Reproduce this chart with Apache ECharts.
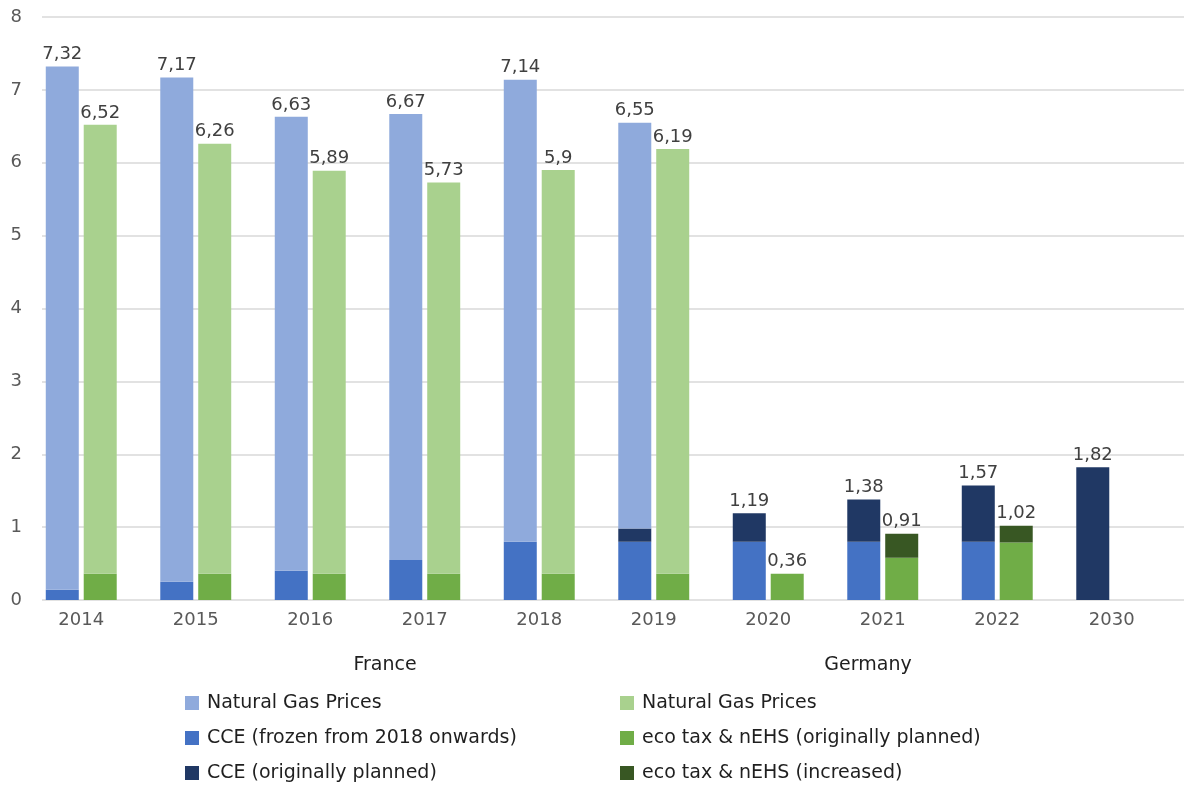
<!DOCTYPE html>
<html>
<head>
<meta charset="utf-8">
<title>Natural gas prices and carbon taxes: France vs Germany</title>
<script src="https://cdn.jsdelivr.net/npm/echarts@6/dist/echarts.min.js"></script>
<style>
  html, body { margin: 0; padding: 0; background: #fff; }
  #chart { width: 1184px; height: 789px; }
</style>
</head>
<body>
<div id="chart"></div>
<script>
// Years on the category axis
const years = ['2014', '2015', '2016', '2017', '2018', '2019', '2020', '2021', '2022', '2030'];

// Left stack (France): CCE frozen, CCE originally planned (extra), gas price
const cceFrozen = [0.14, 0.25, 0.40, 0.55, 0.80, 0.80, 0.80, 0.80, 0.80, null];
const cceOriginal = [null, null, null, null, null, 0.18, 0.39, 0.58, 0.77, 1.82];
const gasPriceFR = [7.18, 6.92, 6.23, 6.12, 6.34, 5.57, null, null, null, null];

// Right stack (Germany): eco tax & nEHS planned, increase, gas price
const ecoTaxPlanned = [0.36, 0.36, 0.36, 0.36, 0.36, 0.36, 0.36, 0.58, 0.79, null];
const ecoTaxIncrease = [null, null, null, null, null, null, null, 0.33, 0.23, null];
const gasPriceDE = [6.16, 5.90, 5.53, 5.37, 5.54, 5.83, null, null, null, null];

const yTicks = { min: 0, max: 8, interval: 1 };

const FONT = '"DejaVu Sans", "Liberation Sans", sans-serif';
const FS = 18;      // axis and value labels
const FS_KEY = 19;  // legend and country labels

// Sum of the segments in one stack, null when the stack is empty
function stackTotals(parts) {
  return years.map((_, i) => {
    let s = 0, any = false;
    parts.forEach(p => { if (p[i] != null) { s += p[i]; any = true; } });
    return any ? Math.round(s * 100) / 100 : null;
  });
}
const totalFR = stackTotals([cceFrozen, cceOriginal, gasPriceFR]);
const totalDE = stackTotals([ecoTaxPlanned, ecoTaxIncrease, gasPriceDE]);

function fmt(v) { return String(v).replace('.', ','); }

function seg(name, data, stack, color) {
  return {
    name, type: 'bar', stack, data,
    xAxisIndex: 0, yAxisIndex: 0,
    barWidth: 33, barGap: '15%',
    itemStyle: { color },
    emphasis: { disabled: true }
  };
}

// Zero-height bar on top of each stack that carries the total label
function totalLabel(id, stack, totals) {
  return {
    id, type: 'bar', stack,
    data: totals.map(t => (t == null ? '-' : 0)),
    xAxisIndex: 0, yAxisIndex: 0,
    barWidth: 33, barGap: '15%',
    itemStyle: { color: 'transparent' },
    silent: true,
    label: {
      show: true, position: 'top', distance: 3,
      color: '#404040', fontSize: FS, fontFamily: FONT,
      formatter: p => fmt(totals[p.dataIndex])
    }
  };
}

const chart = echarts.init(document.getElementById('chart'), null, { renderer: 'canvas' });

const legendText = { color: '#1f1f1f', fontSize: FS_KEY, fontFamily: FONT, lineHeight: 20, padding: [0, 0, 0, 3] };
const legendFormatter = name => name.replace(/ \((FR|DE)\)$/, '');
const legendBase = {
  orient: 'vertical', top: 693, itemGap: 15, padding: 0,
  itemWidth: 14, itemHeight: 14, icon: 'rect',
  formatter: legendFormatter, textStyle: legendText, selectedMode: false
};

chart.setOption({
  animation: false,
  backgroundColor: '#fff',
  grid: [
    { left: 24, right: 15, top: 17, bottom: 189 },
    { left: 42, right: 0, top: 17, bottom: 189 }
  ],
  xAxis: [
    {
      type: 'category', data: years, gridIndex: 0,
      axisLine: { show: false }, axisTick: { show: false },
      axisLabel: { color: '#595959', fontSize: FS, fontFamily: FONT, margin: 11 }
    },
    { type: 'value', gridIndex: 1, show: false, min: 0, max: 1 }
  ],
  yAxis: [
    { type: 'value', gridIndex: 0, show: false, min: yTicks.min, max: yTicks.max, interval: yTicks.interval },
    {
      type: 'value', gridIndex: 1, min: yTicks.min, max: yTicks.max, interval: yTicks.interval,
      axisLine: { show: false }, axisTick: { show: false },
      axisLabel: { color: '#595959', fontSize: FS, fontFamily: FONT, margin: 20 },
      splitLine: { lineStyle: { color: '#d9d9d9', width: 1.5 } }
    }
  ],
  legend: [
    Object.assign({}, legendBase, {
      left: 185,
      data: ['Natural Gas Prices (FR)', 'CCE (frozen from 2018 onwards)', 'CCE (originally planned)']
    }),
    Object.assign({}, legendBase, {
      left: 620,
      data: ['Natural Gas Prices (DE)', 'eco tax & nEHS (originally planned)', 'eco tax & nEHS (increased)']
    })
  ],
  graphic: [
    { type: 'text', x: 385, y: 665, style: { text: 'France', fill: '#1f1f1f', font: FS_KEY + 'px ' + FONT, textAlign: 'center', textVerticalAlign: 'middle' } },
    { type: 'text', x: 868, y: 665, style: { text: 'Germany', fill: '#1f1f1f', font: FS_KEY + 'px ' + FONT, textAlign: 'center', textVerticalAlign: 'middle' } }
  ],
  series: [
    seg('CCE (frozen from 2018 onwards)', cceFrozen, 'fr', '#4472C4'),
    seg('CCE (originally planned)', cceOriginal, 'fr', '#203864'),
    seg('Natural Gas Prices (FR)', gasPriceFR, 'fr', '#8FAADC'),
    totalLabel('frTotal', 'fr', totalFR),
    seg('eco tax & nEHS (originally planned)', ecoTaxPlanned, 'de', '#70AD47'),
    seg('eco tax & nEHS (increased)', ecoTaxIncrease, 'de', '#385723'),
    seg('Natural Gas Prices (DE)', gasPriceDE, 'de', '#A9D18E'),
    totalLabel('deTotal', 'de', totalDE)
  ]
});
</script>
</body>
</html>
